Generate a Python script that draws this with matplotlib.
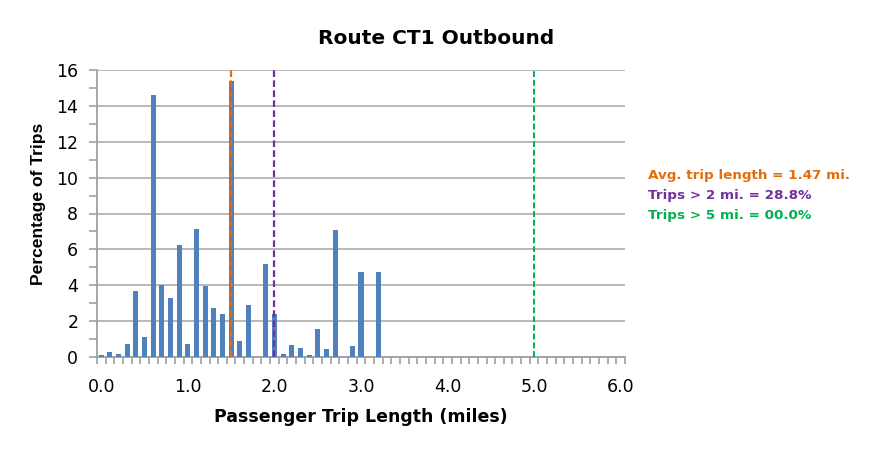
import numpy as np
import matplotlib
matplotlib.use("Agg")
import matplotlib.pyplot as plt
from matplotlib.ticker import FixedLocator, MultipleLocator

plt.rcParams['font.family'] = ['DejaVu Sans']

# Trip length bins (miles) and percentage of trips
trip_length = [round(0.1 * i, 1) for i in range(61)]
pct_trips = [0.09, 0.30, 0.19, 0.74, 3.69, 1.13, 14.63, 4.02, 3.30, 6.24,
             0.74, 7.13, 3.96, 2.74, 2.41, 15.37, 0.91, 2.91, 0.00, 5.19,
             2.41, 0.19, 0.69, 0.52, 0.13, 1.57, 0.46, 7.07, 0.00, 0.63,
             4.74, 0.00, 4.74] + [0.0] * 28

avg_trip = 1.47
pct_over_2 = 28.8
pct_over_5 = 0.0
tick_labels = ["0.0", "1.0", "2.0", "3.0", "4.0", "5.0", "6.0"]

blue = "#4F81BD"
orange = "#E46C0A"
purple = "#7030A0"
green = "#00B050"
grid_c = "#B3B3B3"
axis_c = "#A0A0A0"

fig = plt.figure(figsize=(8.8, 4.5), dpi=100)
ax = fig.add_axes([97/880, 1-357/450, (625-97)/880, (357-70)/450])

ax.bar(trip_length, pct_trips, width=0.058, color=blue, zorder=3)

ax.set_xlim(-0.05, 6.05)
ax.set_ylim(0, 16)

ax.yaxis.set_major_locator(MultipleLocator(2))
ax.yaxis.set_minor_locator(MultipleLocator(1))
ax.grid(axis='y', which='major', color=grid_c, linewidth=1.3, zorder=0)
ax.set_axisbelow(True)

ax.set_xticks([0, 1, 2, 3, 4, 5, 6])
ax.set_xticklabels(tick_labels)
ax.xaxis.set_minor_locator(FixedLocator(np.arange(61 + 1) * 0.1 - 0.05))
ax.tick_params(axis='x', which='major', length=0, pad=15, labelsize=12.5)
ax.tick_params(axis='x', which='minor', length=5, width=1.2, color=axis_c)
ax.tick_params(axis='y', which='both', length=6, width=1.2, color=axis_c,
               labelsize=12.5, pad=7.5)

for s in ['top', 'right']:
    ax.spines[s].set_visible(False)
for s in ['left', 'bottom']:
    ax.spines[s].set_color(axis_c)
    ax.spines[s].set_linewidth(1.3)

# reference lines
ax.axvline(round(avg_trip, 1), color=orange, linestyle=(0, (3, 1.5)), linewidth=1.6, zorder=4)
ax.axvline(2.0, color=purple, linestyle=(0, (3, 1.5)), linewidth=1.6, zorder=4)
ax.axvline(5.0, color=green, linestyle=(0, (3, 1.5)), linewidth=1.4, zorder=4)

fig.text(436/880, 1-38.5/450, "Route CT1 Outbound", ha='center', va='center',
         fontsize=14.5, fontweight='bold')
fig.text(361/880, 1-417/450, "Passenger Trip Length (miles)", ha='center', va='center',
         fontsize=12.5, fontweight='bold')
fig.text(38/880, 1-204/450, "Percentage of Trips", ha='center', va='center',
         rotation=90, fontsize=12.6, fontweight='bold', family='Liberation Sans')

fig.text(648/880, 1-175/450, f"Avg. trip length = {avg_trip:.2f} mi.", color=orange,
         fontsize=9.7, fontweight='bold', va='center', ha='left')
fig.text(648/880, 1-195/450, f"Trips > 2 mi. = {pct_over_2:.1f}%", color=purple,
         fontsize=9.7, fontweight='bold', va='center', ha='left')
fig.text(648/880, 1-215/450, f"Trips > 5 mi. = {pct_over_5:04.1f}%", color=green,
         fontsize=9.7, fontweight='bold', va='center', ha='left')

fig.savefig("out.png", dpi=100)
